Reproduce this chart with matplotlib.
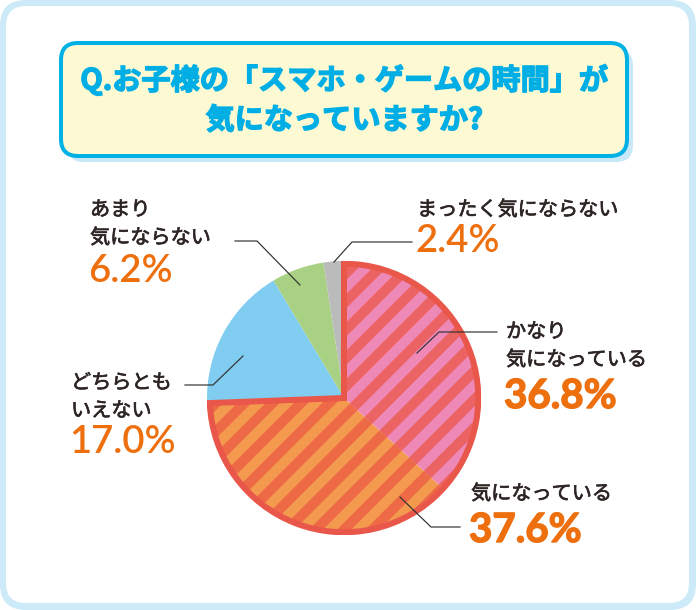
import numpy as np
import matplotlib
matplotlib.use("Agg")
import matplotlib.pyplot as plt
import matplotlib.patheffects as pe
from matplotlib.patches import FancyBboxPatch, Wedge
from matplotlib.lines import Line2D

### Data ###
labels = ["かなり\n気になっている", "気になっている", "どちらとも\nいえない",
          "あまり\n気にならない", "まったく気にならない"]
values = [36.8, 37.6, 17.0, 6.2, 2.4]
pct_labels = ["36.8%", "37.6%", "17.0%", "6.2%", "2.4%"]
title_lines = ["Q.お子様の「スマホ・ゲームの時間」が", "気になっていますか?"]

colors = ["#EE89B7", "#F39A4F", "#80CDF1", "#A9D184", "#BBBBBB"]
stripe_colors = ["#EC6363", "#EE6A47"]
outline_col = "#E9564A"
text_col = "#2E2624"
pct_col = "#EE6F0E"
title_col = "#00AEE6"
jp = ["Noto Sans CJK JP", "DejaVu Sans"]
num = ["Lato", "Noto Sans CJK JP", "DejaVu Sans"]

W, H = 696, 610
PX = 72 / 100  # points per pixel


def thicken(width, col):
    return [pe.withStroke(linewidth=width, foreground=col)]


fig = plt.figure(figsize=(W / 100, H / 100), dpi=100)
ax = fig.add_axes([0, 0, 1, 1])
ax.set_xlim(0, W)
ax.set_ylim(H, 0)
ax.axis("off")

# frame
ax.add_patch(FancyBboxPatch((0, 0), W, H, boxstyle="round,pad=0,rounding_size=26",
                            fc="#CCEAF7", ec="none"))
ax.add_patch(FancyBboxPatch((6, 6), W - 13, H - 13, boxstyle="round,pad=0,rounding_size=20",
                            fc="white", ec="none"))
# title box
ax.add_patch(FancyBboxPatch((67, 49), 566, 113, boxstyle="round,pad=0,rounding_size=17",
                            fc="#C8E7F7", ec="none"))
ax.add_patch(FancyBboxPatch((61, 43), 566, 113, boxstyle="round,pad=0,rounding_size=17",
                            fc="#FCF9D3", ec="#00B1E6", lw=4 * PX))
for k, line in enumerate(title_lines):
    ax.text(344, 80 + 40 * k, line, ha="center", va="center", fontsize=21,
            fontweight="bold", color=title_col, family=jp,
            path_effects=thicken(1.0, title_col))

### Pie ###
cx, cy, r = 344, 398, 137
pax = fig.add_axes([(cx - r) / W, (H - cy - r) / H, 2 * r / W, 2 * r / H])
wedges, _ = pax.pie(values, colors=colors, startangle=90, counterclock=False,
                    radius=1, wedgeprops=dict(linewidth=0))
pax.set_xlim(-1, 1)
pax.set_ylim(-1, 1)
pax.axis("off")

inner_r = 0.98
period = 20 / r * np.sqrt(2)
offsets = np.arange(-2.2, 2.2, period)
for w, sc in zip(wedges[:2], stripe_colors):
    w.set_radius(inner_r)
    for c in offsets:
        ln, = pax.plot([-1.2, 1.2], [-1.2 + c, 1.2 + c], color=sc,
                       lw=10 * PX, solid_capstyle="butt", zorder=2)
        ln.set_clip_path(w)

t_end = wedges[0].theta2
t_start = wedges[1].theta1
pax.add_patch(Wedge((0, 0), inner_r, t_start, t_end, fill=False, ec=outline_col,
                    lw=6 * PX, joinstyle="miter", zorder=3))

### Labels ###
leaders = [
    [(417, 353), (439, 332), (497, 332)],
    [(400, 497), (431, 527), (460, 527)],
    [(243, 356), (213, 385), (185, 385)],
    [(300, 285), (257, 241), (235, 241)],
    [(334, 262), (352, 242), (412, 242)],
]
# (x, first line centre y, percentage baseline y, bold)
label_pos = [
    (506, 332, 408, True),
    (471, 494, 542, True),
    (71, 383, 453, False),
    (90, 210, 282, False),
    (417, 210, 252, False),
]
for pts, lab, pct, (x, y0, yb, bold) in zip(leaders, labels, pct_labels, label_pos):
    xs, ys = zip(*pts)
    fig.add_artist(Line2D(xs, ys, transform=ax.transData, color="#333333",
                          lw=1.2 * PX))
    for k, line in enumerate(lab.split("\n")):
        fig.text(x, y0 + 28 * k, line, transform=ax.transData, ha="left",
                 va="center", fontsize=14.5, color=text_col, family=jp,
                 path_effects=thicken(0.5, text_col))
    fig.text(x - 2, yb, pct, transform=ax.transData, ha="left", va="baseline",
             fontsize=29 if bold else 27.5, color=pct_col, family=num,
             fontweight="bold" if bold else "semibold",
             path_effects=thicken(1.0, pct_col) if bold else None)

fig.savefig("out.png", dpi=100)
